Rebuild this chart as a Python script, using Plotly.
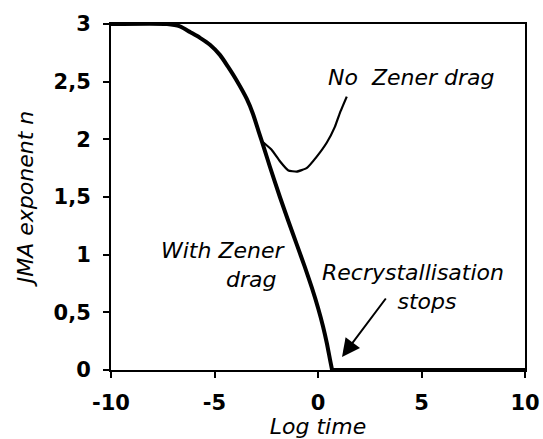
import plotly.graph_objects as go

# Data
zener_x = [-10, -7.29, -6.67, -6.18, -5.70, -5.22, -4.73, -4.35, -3.93, -3.44, -3.14, -2.87,
           -2.60, -2.32, -1.84, -1.43, -1.01, -0.65, -0.29, 0.0, 0.24, 0.43, 0.58, 0.68, 10]
zener_y = [3.0, 3.0, 2.98, 2.93, 2.88, 2.82, 2.73, 2.63, 2.51, 2.35, 2.22, 2.07,
           1.92, 1.76, 1.50, 1.29, 1.08, 0.90, 0.71, 0.54, 0.38, 0.23, 0.09, 0.0, 0.0]

nozener_x = [-2.75, -2.24, -1.84, -1.43, -1.03, -0.55, -0.06, 0.42, 0.82, 1.06, 1.39]
nozener_y = [1.99, 1.91, 1.81, 1.73, 1.72, 1.75, 1.85, 1.97, 2.11, 2.23, 2.37]

x_ticks = [-10, -5, 0, 5, 10]
x_ticktext = ["-10", "-5", "0", "5", "10"]
y_ticks = [0, 0.5, 1, 1.5, 2, 2.5, 3]
y_ticktext = ["0", "0,5", "1", "1,5", "2", "2,5", "3"]

FONT = "DejaVu Sans"
ann_font = dict(family=FONT, size=22, color="black", style="italic")

fig = go.Figure()
fig.add_trace(go.Scatter(x=nozener_x, y=nozener_y, mode="lines",
                         line=dict(color="black", width=2.2, shape="spline", smoothing=0.3),
                         cliponaxis=False, showlegend=False))
# decreasing part of the "With Zener drag" curve (smooth) and the n = 0 part after it stops
fig.add_trace(go.Scatter(x=zener_x[:-1], y=zener_y[:-1], mode="lines",
                         line=dict(color="black", width=4, shape="spline", smoothing=0.6),
                         cliponaxis=False, showlegend=False))
fig.add_trace(go.Scatter(x=zener_x[-2:], y=zener_y[-2:], mode="lines",
                         line=dict(color="black", width=4),
                         cliponaxis=False, showlegend=False))

annos = [
    dict(x=4.54, y=2.54, text="No  Zener drag", xanchor="center", yanchor="middle", align="center"),
    dict(x=-1.45, y=0.91, text="With Zener<br>drag&nbsp;", xanchor="right", yanchor="middle", align="right"),
    dict(x=4.59, y=0.72, text="Recrystallisation<br>&nbsp;&nbsp;&nbsp;&nbsp;stops", xanchor="center",
         yanchor="middle", align="center"),
]
for a in annos:
    fig.add_annotation(xref="x", yref="y", showarrow=False, font=ann_font, **a)

fig.add_annotation(x=1.16, y=0.113, ax=3.33, ay=0.633, xref="x", yref="y",
                   axref="x", ayref="y", showarrow=True, arrowhead=2,
                   arrowsize=1.8, arrowwidth=2, arrowcolor="black", text="")

fig.update_layout(
    width=543, height=439,
    margin=dict(l=111, r=18, t=24, b=69),
    paper_bgcolor="white", plot_bgcolor="white",
    xaxis=dict(range=[-10, 10], tickvals=x_ticks, ticktext=x_ticktext, automargin=False,
               showgrid=False, zeroline=False, showline=True, linecolor="black",
               linewidth=2, mirror=True, ticks="outside", ticklen=6, tickwidth=2,
               tickcolor="black", ticklabelstandoff=7,
               tickfont=dict(family=FONT, size=21, color="black", weight="bold"),
               title=dict(text="Log time", standoff=4,
                          font=dict(family=FONT, size=22, color="black", style="italic"))),
    yaxis=dict(range=[0, 3], tickvals=y_ticks, ticktext=y_ticktext, automargin=False,
               showgrid=False, zeroline=False, showline=True, linecolor="black",
               linewidth=2, mirror=True, ticks="outside", ticklen=6, tickwidth=2,
               tickcolor="black", ticklabelstandoff=8,
               tickfont=dict(family=FONT, size=21, color="black", weight="bold"),
               title=dict(text="JMA exponent <i>n</i>", standoff=14,
                          font=dict(family=FONT, size=22, color="black", style="italic"))),
)

fig.write_html("out.html")
